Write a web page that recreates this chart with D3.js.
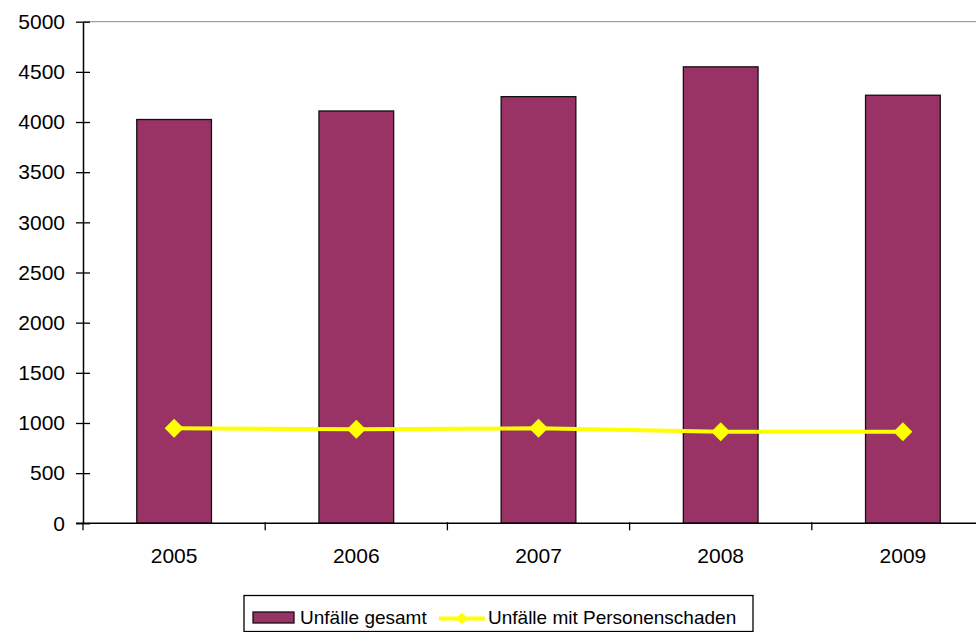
<!DOCTYPE html>
<html>
<head>
<meta charset="utf-8">
<style>
    body { margin: 0; background: #fff; }
    text { font-family: 'Liberation Sans', Arial, sans-serif; fill: #000; }
</style>
<script src="https://d3js.org/d3.v7.min.js"></script>
</head>
<body>
<svg width="976" height="632"></svg>
<script>
    var years = ['2005', '2006', '2007', '2008', '2009'];
    var totalAccidents = [4025, 4110, 4253, 4550, 4267];      // Unfälle gesamt
    var injuryAccidents = [947, 937, 947, 913, 913];          // Unfälle mit Personenschaden
    var yTicks = [0, 500, 1000, 1500, 2000, 2500, 3000, 3500, 4000, 4500, 5000];

    var plotLeft = 83, plotTop = 21.7, plotBottom = 523.3;
    var bandW = 182.2;

    var svg = d3.select('svg');

    var x = d3.scaleBand()
        .domain(years)
        .range([plotLeft, plotLeft + bandW * years.length])
        .paddingInner(0.59)
        .paddingOuter(0.295);
    var y = d3.scaleLinear()
        .domain([0, 5000])
        .range([plotBottom, plotTop]);

    // gray top border of plot area
    svg.append('line')
        .attr('x1', plotLeft).attr('x2', 976)
        .attr('y1', y(5000)).attr('y2', y(5000))
        .attr('stroke', '#a0a0a0').attr('stroke-width', 1.3);

    // bars
    svg.append('g')
        .selectAll('rect')
        .data(totalAccidents)
        .enter()
        .append('rect')
        .attr('x', function (d, i) { return x(years[i]); })
        .attr('y', function (d) { return y(d); })
        .attr('width', x.bandwidth())
        .attr('height', function (d) { return plotBottom - y(d); })
        .attr('fill', '#993366')
        .attr('stroke', '#111')
        .attr('stroke-width', 1.3);

    // y axis
    var yAxis = d3.axisLeft(y)
        .tickValues(yTicks)
        .tickFormat(d3.format('d'))
        .tickSize(0)
        .tickPadding(18);
    var ga = svg.append('g')
        .attr('transform', 'translate(' + plotLeft + ',0)')
        .call(yAxis);
    ga.select('.domain').attr('stroke', '#000').attr('stroke-width', 1.5);
    ga.selectAll('text')
        .style('font-size', '21px')
        .style('font-family', "'Liberation Sans', Arial, sans-serif");
    ga.selectAll('.tick')
        .append('line')
        .attr('x1', -7).attr('x2', 7)
        .attr('stroke', '#000').attr('stroke-width', 1.3);

    // x axis: line with category boundary ticks
    svg.append('line')
        .attr('x1', plotLeft - 7).attr('x2', 976)
        .attr('y1', plotBottom).attr('y2', plotBottom)
        .attr('stroke', '#000').attr('stroke-width', 1.5);
    var bounds = d3.range(years.length + 1).map(function (i) { return plotLeft + i * bandW; });
    svg.append('g')
        .selectAll('line')
        .data(bounds)
        .enter()
        .append('line')
        .attr('x1', function (d) { return d; })
        .attr('x2', function (d) { return d; })
        .attr('y1', plotBottom - 1).attr('y2', plotBottom + 7)
        .attr('stroke', '#000').attr('stroke-width', 1.3);
    svg.append('g')
        .selectAll('text')
        .data(years)
        .enter()
        .append('text')
        .attr('x', function (d) { return x(d) + x.bandwidth() / 2; })
        .attr('y', 563)
        .attr('text-anchor', 'middle')
        .style('font-size', '21px')
        .text(function (d) { return d; });

    // line series
    var cx = function (d, i) { return x(years[i]) + x.bandwidth() / 2; };
    var line = d3.line()
        .x(cx)
        .y(function (d) { return y(d); });
    svg.append('path')
        .datum(injuryAccidents)
        .attr('d', line)
        .attr('fill', 'none')
        .attr('stroke', '#ffff00')
        .attr('stroke-width', 4);
    var diamond = d3.symbol().type(d3.symbolDiamond2).size(230);
    svg.append('g')
        .selectAll('path')
        .data(injuryAccidents)
        .enter()
        .append('path')
        .attr('transform', function (d, i) { return 'translate(' + cx(d, i) + ',' + y(d) + ')'; })
        .attr('d', diamond)
        .attr('fill', '#ffff00');

    // legend
    var lg = svg.append('g');
    lg.append('rect')
        .attr('x', 244).attr('y', 595.5)
        .attr('width', 509).attr('height', 36)
        .attr('fill', '#fff').attr('stroke', '#000').attr('stroke-width', 1.3);
    lg.append('rect')
        .attr('x', 253).attr('y', 612)
        .attr('width', 41).attr('height', 11)
        .attr('fill', '#993366').attr('stroke', '#111').attr('stroke-width', 1.3);
    lg.append('text')
        .attr('x', 300).attr('y', 624)
        .style('font-size', '19px')
        .text('Unfälle gesamt');
    lg.append('line')
        .attr('x1', 439).attr('x2', 485)
        .attr('y1', 618.5).attr('y2', 618.5)
        .attr('stroke', '#ffff00').attr('stroke-width', 4);
    lg.append('path')
        .attr('transform', 'translate(462,618.5)')
        .attr('d', d3.symbol().type(d3.symbolDiamond2).size(90))
        .attr('fill', '#ffff00');
    lg.append('text')
        .attr('x', 488).attr('y', 624)
        .style('font-size', '19px')
        .text('Unfälle mit Personenschaden');
</script>
</body>
</html>
